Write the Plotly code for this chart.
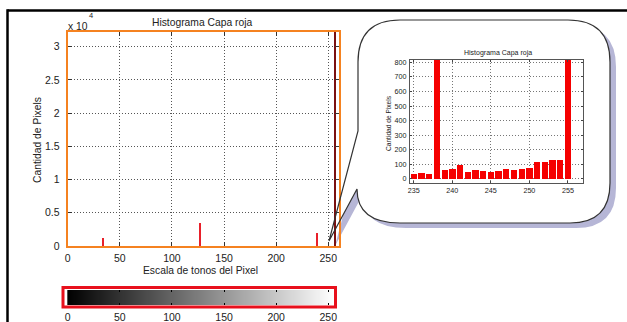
import plotly.graph_objects as go

W, H = 627, 322

# ---------------- data ----------------
main_tones = [34, 127, 239, 256]
main_counts = [1250, 3470, 1960, 36000]
main_colors = ["#e8202a", "#e8202a", "#e8202a", "#7a1010"]

inset_tones = [235, 236, 237, 238, 239, 240, 241, 242, 243, 244, 245,
               246, 247, 248, 249, 250, 251, 252, 253, 254, 255]
inset_counts = [32, 41, 34, 1960, 59, 69, 94, 50, 59, 57, 50,
                55, 71, 64, 66, 73, 119, 119, 130, 128, 36000]

main_x_ticks = [0, 50, 100, 150, 200, 250]
main_y_ticks = [0, 5000, 10000, 15000, 20000, 25000, 30000]
main_y_labels = ["0", "0.5", "1", "1.5", "2", "2.5", "3"]
inset_x_ticks = [235, 240, 245, 250, 255]
inset_y_ticks = [0, 100, 200, 300, 400, 500, 600, 700, 800]
gray_levels = list(range(256))

# ---------------- helpers ----------------
def px(x):
    return x / W

def py(y):
    return 1 - y / H

def path(cmds):
    out = []
    for c in cmds:
        op, pts = c[0], c[1:]
        s = op
        for (x, y) in pts:
            s += f" {px(x):.5f},{py(y):.5f}"
        out.append(s)
    return " ".join(out) + " Z"

def callout(dx=0, dy=0):
    def p(x, y):
        return (x + dx, y + dy)
    return path([
        ("M", p(329, 241)),
        ("L", p(358, 131)),
        ("L", p(358, 62)),
        ("Q", p(358, 20), p(400, 20)),
        ("L", p(568, 20)),
        ("Q", p(610, 20), p(610, 62)),
        ("L", p(610, 183)),
        ("Q", p(610, 223), p(570, 223)),
        ("L", p(400, 223)),
        ("Q", p(357, 223), p(357, 189)),
    ])

FONT = "Liberation Sans, Arial, sans-serif"
ORANGE = "#f58220"

fig = go.Figure()

fig.add_trace(go.Bar(x=main_tones, y=main_counts, width=1.4,
                     marker=dict(color=main_colors, line=dict(width=0)),
                     xaxis="x", yaxis="y", showlegend=False))
fig.add_trace(go.Bar(x=inset_tones, y=inset_counts, width=0.82,
                     marker=dict(color="#f50000", line=dict(width=0)),
                     xaxis="x2", yaxis="y2", showlegend=False))
fig.add_trace(go.Heatmap(z=[gray_levels], x=gray_levels, y=[0],
                         colorscale=[[0, "#000000"], [1, "#ffffff"]],
                         showscale=False, xaxis="x3", yaxis="y3",
                         hoverinfo="skip"))

sx = 1.0424  # px per tone unit
main_left = 67.7

fig.update_layout(
    width=W, height=H,
    margin=dict(l=0, r=0, t=0, b=0),
    paper_bgcolor="white",
    plot_bgcolor="rgba(0,0,0,0)",
    font=dict(family=FONT, color="#222", size=10),
    xaxis=dict(domain=[px(main_left), px(main_left + 260 * sx)], range=[0, 260],
               anchor="y", tickvals=main_x_ticks, showgrid=True,
               gridcolor="#555", griddash="1px,2px", gridwidth=1,
               showline=True, linecolor=ORANGE, linewidth=2, mirror="ticks",
               ticks="inside", ticklen=4, tickcolor="#333",
               tickfont=dict(size=10.5), zeroline=False, automargin=False,
               ticklabelstandoff=1),
    yaxis=dict(domain=[py(246), py(31.7)], range=[0, 32260], anchor="x",
               tickvals=main_y_ticks, ticktext=main_y_labels, showgrid=True,
               gridcolor="#555", griddash="1px,2px", gridwidth=1,
               showline=True, linecolor=ORANGE, linewidth=2, mirror="ticks",
               ticks="inside", ticklen=4, tickcolor="#333",
               tickfont=dict(size=10.5), zeroline=False, automargin=False,
               ticklabelstandoff=4),
    xaxis2=dict(domain=[px(410), px(583.3)], range=[234.5, 257], anchor="y2",
                tickvals=inset_x_ticks, showgrid=True, gridcolor="#777",
                griddash="1px,2px", gridwidth=1, showline=True,
                linecolor="#555", linewidth=1, mirror="ticks",
                ticks="inside", ticklen=2, tickcolor="#444",
                tickfont=dict(size=7.2), zeroline=False, automargin=False),
    yaxis2=dict(domain=[py(183.3), py(60)], range=[-30, 816], anchor="x2",
                tickvals=inset_y_ticks, showgrid=True, gridcolor="#777",
                griddash="1px,2px", gridwidth=1, showline=True,
                linecolor="#555", linewidth=1, mirror="ticks",
                ticks="inside", ticklen=2, tickcolor="#444",
                tickfont=dict(size=7.2), zeroline=False, automargin=False,
                ticklabelstandoff=1),
    xaxis3=dict(domain=[px(main_left - 0.5 * sx), px(main_left + 255.5 * sx)],
                range=[-0.5, 255.5], anchor="y3", tickvals=main_x_ticks,
                showgrid=False, showline=False, zeroline=False,
                ticks="inside", ticklen=2, tickcolor="#000", mirror="allticks",
                tickfont=dict(size=10.5), automargin=False,
                ticklabelstandoff=4),
    yaxis3=dict(domain=[py(305), py(290)], range=[-0.5, 0.5], anchor="x3",
                showgrid=False, showline=False, zeroline=False,
                showticklabels=False, ticks="", automargin=False),
    bargap=0,
)

shapes = [
    # outer page frame
    dict(type="line", xref="paper", yref="paper", x0=px(7.5), x1=px(627),
         y0=py(10.5), y1=py(10.5), line=dict(color="black", width=2.5)),
    dict(type="line", xref="paper", yref="paper", x0=px(7.5), x1=px(7.5),
         y0=py(9.3), y1=py(322), line=dict(color="black", width=2.5)),
    # callout shadow, fill, outline
    dict(type="path", xref="paper", yref="paper", path=callout(6, 5),
         fillcolor="#b6b6d6", line=dict(width=0), layer="below"),
    dict(type="path", xref="paper", yref="paper", path=callout(),
         fillcolor="white", line=dict(width=0), layer="below"),
    dict(type="path", xref="paper", yref="paper", path=callout(),
         fillcolor="rgba(0,0,0,0)", line=dict(color="#333", width=1.2),
         layer="above"),
    # red frame around the gray scale bar
    dict(type="rect", xref="paper", yref="paper", x0=px(63), x1=px(335.5),
         y0=py(307), y1=py(287.5), line=dict(color="#e8101c", width=3),
         fillcolor="rgba(0,0,0,0)", layer="above"),
]
fig.update_layout(shapes=shapes)

def ann(text, x, y, size, xanchor="center", yanchor="middle", angle=0):
    return dict(text=text, x=px(x), y=py(y), xref="paper", yref="paper",
                xanchor=xanchor, yanchor=yanchor, showarrow=False,
                textangle=angle, font=dict(size=size, family=FONT, color="#222"))

fig.update_layout(annotations=[
    ann("Histograma Capa roja", 202, 22, 10.3),
    ann("x 10", 66, 26, 10.3, xanchor="left"),
    ann("4", 87, 16, 7.5, xanchor="left"),
    ann("Escala de tonos del Pixel", 200, 270, 10.3),
    ann("Cantidad de Pixels", 38, 140, 10.3, angle=-90),
    ann("Histograma Capa roja", 498, 53, 7),
    ann("Cantidad de Pixels", 388, 123, 6.6, angle=-90),
])

fig.write_html("out.html")
